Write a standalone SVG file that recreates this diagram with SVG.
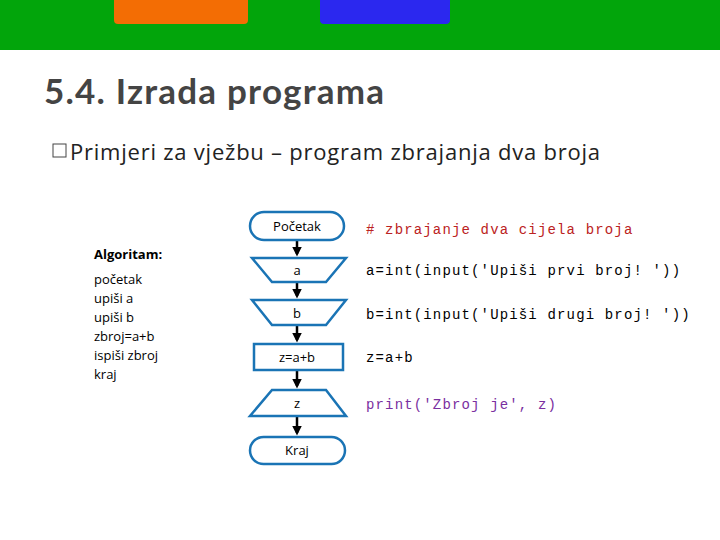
<svg xmlns="http://www.w3.org/2000/svg" width="720" height="540" viewBox="0 0 720 540">
<style>
.s{fill:#fff;stroke:#1a74b5;stroke-width:2.5}
.t{font-family:"Open Sans","DejaVu Sans",sans-serif;font-size:13px;fill:#000;text-anchor:middle}
.c{font-family:"Liberation Mono",monospace;font-size:14px;letter-spacing:1.15px;fill:#000}
.l{font-family:"Open Sans","DejaVu Sans",sans-serif;font-size:13px;fill:#000}
</style>
<defs><marker id="ar" markerWidth="4" markerHeight="4" refX="3" refY="2" orient="auto"><path d="M0,0 L4,2 L0,4 Z" fill="#000"/></marker></defs>
<rect width="720" height="540" fill="#fff"/>
<rect width="720" height="50" fill="#02a50b"/>
<rect x="114" y="-6" width="134" height="30" rx="4" fill="#f36d04"/>
<rect x="320" y="-6" width="130" height="30" rx="4" fill="#2b28ef"/>
<text x="44" y="104" font-family="Lato,'Open Sans',sans-serif" font-weight="bold" font-size="35" textLength="340" fill="#444">5.4. Izrada programa</text>
<rect x="53" y="144" width="13" height="13" fill="none" stroke="#444" stroke-width="1"/>
<text x="70" y="160" font-family="'Open Sans','DejaVu Sans',sans-serif" font-size="22" textLength="530" fill="#222">Primjeri za vježbu – program zbrajanja dva broja</text>
<g id="algoritam">
<text class="l" x="94" y="259" font-weight="bold">Algoritam:</text>
<text class="l" x="94" y="284">početak</text>
<text class="l" x="94" y="303">upiši a</text>
<text class="l" x="94" y="322">upiši b</text>
<text class="l" x="94" y="341">zbroj=a+b</text>
<text class="l" x="94" y="360">ispiši zbroj</text>
<text class="l" x="94" y="379">kraj</text>
</g>
<g id="connectors" stroke="#000" stroke-width="2.5" marker-end="url(#ar)">
<line x1="297" y1="240" x2="297" y2="254"/>
<line x1="297" y1="282" x2="297" y2="296"/>
<line x1="297" y1="325" x2="297" y2="340"/>
<line x1="297" y1="370" x2="297" y2="386"/>
<line x1="297" y1="416" x2="297" y2="433"/>
</g>
<g id="pocetak"><rect class="s" x="250" y="212" width="94" height="28" rx="14"/><text class="t" x="297" y="231">Početak</text></g>
<g id="a"><polygon class="s" points="252,258 346,258 326,282 272,282"/><text class="t" x="297" y="275">a</text></g>
<g id="b"><polygon class="s" points="252,300 346,300 326,325 272,325"/><text class="t" x="297" y="318">b</text></g>
<g id="zab"><rect class="s" x="254" y="344" width="89" height="26"/><text class="t" x="297" y="362">z=a+b</text></g>
<g id="z"><polygon class="s" points="272,390 326,390 346,416 250,416"/><text class="t" x="297" y="408">z</text></g>
<g id="kraj"><rect class="s" x="250" y="437" width="95" height="27" rx="13.5"/><text class="t" x="297" y="455">Kraj</text></g>
<g id="code">
<text class="c" x="366" y="234" style="fill:#b22">#&#160;zbrajanje dva cijela broja</text>
<text class="c" x="366" y="275">a=int(input('Upiši prvi broj! '))</text>
<text class="c" x="366" y="319">b=int(input('Upiši drugi broj! '))</text>
<text class="c" x="366" y="362">z=a+b</text>
<text class="c" x="366" y="409" style="fill:#7a2fa0">print('Zbroj je', z)</text>
</g>
</svg>
